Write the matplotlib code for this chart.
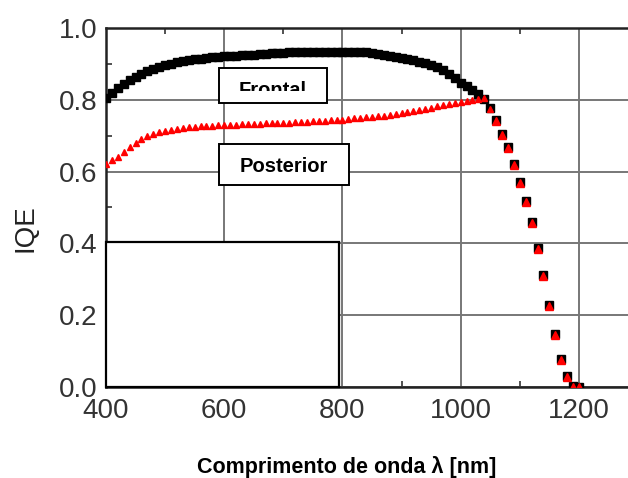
import matplotlib
matplotlib.use("Agg")
import matplotlib.pyplot as plt
from matplotlib.patches import Rectangle
from matplotlib.ticker import MultipleLocator

plt.rcParams['font.family'] = ['Liberation Sans', 'DejaVu Sans']

# wavelength grid (nm)
wavelength = list(range(400, 1060, 10)) + list(range(1060, 1210, 10))

# Frontal (black squares)
iqe_frontal = [
    0.805, 0.820, 0.833, 0.845, 0.855, 0.864, 0.872, 0.879, 0.886, 0.892,
    0.897, 0.901, 0.905, 0.908, 0.911, 0.913, 0.915, 0.917, 0.919, 0.920,
    0.921, 0.922, 0.923, 0.924, 0.925, 0.926, 0.927, 0.928, 0.929, 0.930,
    0.931, 0.932, 0.933, 0.933, 0.934, 0.934, 0.934, 0.934, 0.934, 0.933,
    0.933, 0.933, 0.933, 0.932, 0.932, 0.930, 0.928, 0.926, 0.923, 0.920,
    0.916, 0.913, 0.910, 0.906, 0.902, 0.897, 0.891, 0.883, 0.873, 0.861,
    0.848, 0.838, 0.828, 0.816, 0.802, 0.778,
    0.745, 0.705, 0.668, 0.621, 0.571, 0.518, 0.460, 0.387, 0.312, 0.228,
    0.148, 0.078, 0.031, 0.003, 0.000,
]

# Posterior (red triangles)
iqe_posterior = [
    0.622, 0.632, 0.640, 0.655, 0.668, 0.680, 0.690, 0.699, 0.705, 0.710,
    0.714, 0.717, 0.719, 0.721, 0.723, 0.725, 0.726, 0.727, 0.728, 0.729,
    0.730, 0.731, 0.731, 0.732, 0.732, 0.733, 0.733, 0.734, 0.734, 0.735,
    0.735, 0.736, 0.737, 0.738, 0.739, 0.740, 0.741, 0.742, 0.743, 0.744,
    0.744, 0.746, 0.748, 0.750, 0.751, 0.752, 0.754, 0.756, 0.758, 0.760,
    0.763, 0.766, 0.769, 0.772, 0.775, 0.778, 0.782, 0.785, 0.789, 0.792,
    0.795, 0.798, 0.800, 0.803, 0.805, 0.775,
    0.742, 0.702, 0.665, 0.618, 0.568, 0.515, 0.457, 0.384, 0.309, 0.225,
    0.145, 0.075, 0.028, 0.001, 0.000,
]

xticks = [400, 600, 800, 1000, 1200]
yticks = [0.0, 0.2, 0.4, 0.6, 0.8, 1.0]

fig = plt.figure(figsize=(6.28, 4.78), dpi=100)
ax = fig.add_axes([106 / 628, 1 - 387 / 478, 532 / 628, 359 / 478])

# dense part (before the sparse tail) and tail drawn with different marker sizes
n = 66
ax.plot(wavelength, iqe_frontal, ls='none', marker='s', ms=6,
        color='black', zorder=3)
ax.plot(wavelength[:n], iqe_posterior[:n], ls='none', marker='^', ms=4,
        color='red', mec='red', zorder=4)
ax.plot(wavelength[n:], iqe_posterior[n:], ls='none', marker='^', ms=5.5,
        color='red', mec='red', zorder=4)

ax.set_xlim(400, 1300)
ax.set_ylim(0, 1.0)
ax.set_xticks(xticks)
ax.set_yticks(yticks)
ax.set_yticklabels([f"{v:.1f}" for v in yticks])
ax.xaxis.set_minor_locator(MultipleLocator(100))
ax.yaxis.set_minor_locator(MultipleLocator(0.1))
ax.tick_params(which='both', direction='in', top=True, right=False,
               labelsize=20, labelcolor='#333333')
ax.tick_params(axis='x', which='major', pad=8)
ax.tick_params(axis='y', which='major', pad=6)
ax.tick_params(which='minor', length=4, width=1.2, color='#333333')
ax.tick_params(which='major', length=0)
ax.grid(True, which='major', color='#777777', lw=1.4, zorder=1)
for s in ax.spines.values():
    s.set_linewidth(1.8)
    s.set_color('#222222')

# white box bottom-left
ax.add_patch(Rectangle((400, 0), 395, 0.404, facecolor='white',
                       edgecolor='black', lw=1.6, zorder=5, clip_on=False))

# label boxes (pixel coordinates of the picture)
def px_box(x0, y0, x1, y1):
    return Rectangle((x0 / 628, 1 - y1 / 478), (x1 - x0) / 628, (y1 - y0) / 478,
                     transform=fig.transFigure, facecolor='white',
                     edgecolor='black', lw=1.4, zorder=6)

ax.add_artist(px_box(219, 68, 327, 103))
t = fig.text(239 / 628, 1 - 96 / 478, "Frontal", fontsize=14.5, fontweight='bold',
             ha='left', va='baseline', zorder=7)
clip = Rectangle((219 / 628, 1 - 91 / 478), 108 / 628, 23 / 478,
                 transform=fig.transFigure)
t.set_clip_path(clip)

ax.add_artist(px_box(219, 144, 349, 185))
fig.text(240 / 628, 1 - 166.5 / 478, "Posterior", fontsize=14.5, fontweight='bold',
         ha='left', va='center', zorder=7)

fig.text(26 / 628, 1 - 228 / 478, "IQE", fontsize=20, rotation=90,
         ha='center', va='center', color='#222222')
fig.text(347 / 628, 1 - 467 / 478, "Comprimento de onda λ [nm]", fontsize=15.5,
         fontweight='bold', ha='center', va='center')

fig.savefig("out.png", dpi=100)
